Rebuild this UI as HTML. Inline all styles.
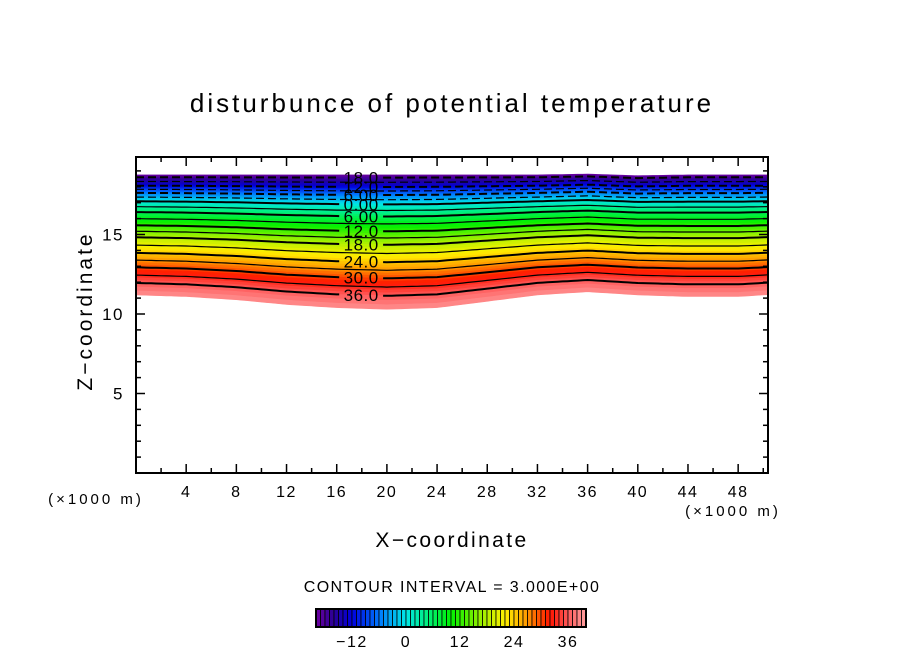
<!DOCTYPE html>
<html><head><meta charset="utf-8"><style>
html,body{margin:0;padding:0;background:#fff;}
svg text{font-family:"Liberation Sans",sans-serif;fill:#000;}
</style></head><body>
<svg id="c" width="904" height="654" viewBox="0 0 904 654" xmlns="http://www.w3.org/2000/svg">
<text x="452" y="112" text-anchor="middle" font-size="26" letter-spacing="3">disturbunce of potential temperature</text>
<g id="field"></g>
<g id="lines"></g>
<g id="labels"></g>
<rect x="136" y="157" width="632" height="316" fill="none" stroke="#000" stroke-width="2"/>
<g id="axes"></g>
<text x="96" y="504" text-anchor="middle" font-size="15" letter-spacing="3">(×1000 m)</text>
<text x="733" y="516" text-anchor="middle" font-size="15" letter-spacing="3">(×1000 m)</text>
<text x="452" y="547" text-anchor="middle" font-size="21" letter-spacing="2.4">X−coordinate</text>
<text transform="translate(92,311) rotate(-90)" text-anchor="middle" font-size="21" letter-spacing="3">Z−coordinate</text>
<text x="452" y="592" text-anchor="middle" font-size="16" letter-spacing="1.4">CONTOUR INTERVAL = 3.000E+00</text>
<g id="cbar"></g>
</svg>
<script>
// data
const xSamples=[0,4,8,12,16,20,24,28,32,36,40,44,48,50];
const zBottom=[11.2,11.1,10.9,10.6,10.4,10.3,10.4,10.8,11.2,11.4,11.2,11.1,11.1,11.2];
const zTop=[18.75,18.75,18.75,18.75,18.75,18.75,18.75,18.75,18.75,18.8,18.7,18.75,18.75,18.75];
const sProfile=[0,0.1,0.23,0.35,0.48,0.58,0.69,0.78,0.85,0.91,0.98,1];
const thetaProfile=[39,36,30,24,18,12,6,0,-6,-12,-18,-20];
const xTicks=[4,8,12,16,20,24,28,32,36,40,44,48];
const yTicks=[5,10,15];
const cbarTicks=[-12,0,12,24,36];
const lineLevels=[-18,-15,-12,-9,-6,-3,0,3,6,9,12,15,18,21,24,27,30,33,36];
const labelLevels=[-18,-12,-6,0,6,12,18,24,30,36];

const NS="http://www.w3.org/2000/svg";
const X=x=>136+x*12.545, Y=z=>473-z*15.9;
function interp(xs,ys,x){for(let i=0;i<xs.length-1;i++){if(x<=xs[i+1]||i==xs.length-2){const t=(x-xs[i])/(xs[i+1]-xs[i]);return ys[i]+t*(ys[i+1]-ys[i]);}}}
function sOf(v){
 for(let i=0;i<thetaProfile.length-1;i++){const a=thetaProfile[i],b=thetaProfile[i+1];
  if((v<=a&&v>=b)){return sProfile[i]+(a-v)/(a-b)*(sProfile[i+1]-sProfile[i]);}}
 return v>thetaProfile[0]?0:1;}
function zOf(v,x){const b=interp(xSamples,zBottom,x),t=interp(xSamples,zTop,x);return b+sOf(v)*(t-b);}
const stops=[[-20,[110,0,160]],[-16,[40,0,150]],[-12,[0,0,220]],[-6,[0,120,255]],[0,[0,230,230]],[5,[0,240,120]],[10,[0,240,0]],[17,[160,240,0]],[22,[255,240,0]],[27,[255,150,0]],[32,[255,20,0]],[36,[255,90,90]],[40,[255,160,160]]];
function col(v){for(let i=0;i<stops.length-1;i++){const[a,ca]=stops[i],[b,cb]=stops[i+1];if(v<=b||i==stops.length-2){const t=Math.max(0,Math.min(1,(v-a)/(b-a)));return`rgb(${ca.map((c,k)=>Math.round(c+t*(cb[k]-c))).join(',')})`;}}}
const xs=[];for(let x=0;x<=50.4;x+=0.4)xs.push(x);
const field=document.getElementById('field');
for(let v=-20;v<39;v++){
 const lo=xs.map(x=>X(x).toFixed(1)+','+Y(zOf(v+1,x)).toFixed(1));
 const hi=xs.slice().reverse().map(x=>X(x).toFixed(1)+','+Y(zOf(v,x)).toFixed(1));
 const p=document.createElementNS(NS,'polygon');
 p.setAttribute('points',lo.concat(hi).join(' '));
 p.setAttribute('fill',col(v+0.5));p.setAttribute('stroke',col(v+0.5));p.setAttribute('stroke-width','0.6');
 
 
 field.appendChild(p);}
const lines=document.getElementById('lines');
lineLevels.forEach(v=>{
 const segs=labelLevels.includes(v)?[[0,16.2],[19.7,50.4]]:[[0,50.4]];
 segs.forEach(([a,b])=>{
  const pts=xs.filter(x=>x>=a&&x<=b).map(x=>X(x).toFixed(1)+','+Y(zOf(v,x)).toFixed(1));
  pts.unshift(X(a).toFixed(1)+','+Y(zOf(v,a)).toFixed(1));pts.push(X(b).toFixed(1)+','+Y(zOf(v,b)).toFixed(1));
  const pl=document.createElementNS(NS,'polyline');
  pl.setAttribute('points',pts.join(' '));pl.setAttribute('fill','none');pl.setAttribute('stroke','#000');
  pl.setAttribute('stroke-width',v%6==0?'2':'1.2');
  if(v<0)pl.setAttribute('stroke-dasharray','8 4');
  
  
  lines.appendChild(pl);});});
const labels=document.getElementById('labels');
labelLevels.forEach(v=>{const t=document.createElementNS(NS,'text');
 t.setAttribute('x',X(17.95));t.setAttribute('y',Y(zOf(v,17.95))+6);t.setAttribute('text-anchor','middle');t.setAttribute('font-size','17');t.setAttribute('letter-spacing','0.5');
 t.textContent=Math.abs(v)<10?Math.abs(v).toFixed(2):Math.abs(v).toFixed(1);
 
 
 labels.appendChild(t);});
const axes=document.getElementById('axes');
function ln(x1,y1,x2,y2,w){const l=document.createElementNS(NS,'line');l.setAttribute('x1',x1);l.setAttribute('y1',y1);l.setAttribute('x2',x2);l.setAttribute('y2',y2);l.setAttribute('stroke','#000');l.setAttribute('stroke-width',w);
 
 
 axes.appendChild(l);}
for(let x=2;x<=50;x+=2){const big=x%4==0,L=big?9:5;ln(X(x),473,X(x),473-L,1.5);ln(X(x),157,X(x),157+L,1.5);}
for(let z=1;z<=19;z++){const big=z%5==0,L=big?9:5;ln(136,Y(z),136+L,Y(z),1.5);ln(768,Y(z),768-L,Y(z),1.5);}
xTicks.forEach(x=>{const t=document.createElementNS(NS,'text');t.setAttribute('x',X(x));t.setAttribute('y',497);t.setAttribute('text-anchor','middle');t.setAttribute('font-size','16');t.setAttribute('letter-spacing','1.5');t.textContent=x;
 
 
 axes.appendChild(t);});
yTicks.forEach(z=>{const t=document.createElementNS(NS,'text');t.setAttribute('x',124);t.setAttribute('y',Y(z)+6);t.setAttribute('text-anchor','end');t.setAttribute('font-size','17');t.setAttribute('letter-spacing','1.5');t.textContent=z;
 
 
 axes.appendChild(t);});
const cb=document.getElementById('cbar');const C=v=>316+(v+20)*4.5;
for(let v=-20;v<40;v++){const r=document.createElementNS(NS,'rect');r.setAttribute('x',C(v));r.setAttribute('y',609);r.setAttribute('width',4.5);r.setAttribute('height',18);r.setAttribute('fill',col(v+0.5));r.setAttribute('stroke','#000');r.setAttribute('stroke-width','0.8');
 
 
 cb.appendChild(r);}
const fr=document.createElementNS(NS,'rect');fr.setAttribute('x',316);fr.setAttribute('y',609);fr.setAttribute('width',270);fr.setAttribute('height',18);fr.setAttribute('fill','none');fr.setAttribute('stroke','#000');fr.setAttribute('stroke-width','2');


cb.appendChild(fr);
cbarTicks.forEach(v=>{const t=document.createElementNS(NS,'text');t.setAttribute('x',C(v));t.setAttribute('y',647);t.setAttribute('text-anchor','middle');t.setAttribute('font-size','16');t.setAttribute('letter-spacing','1.5');t.textContent=v<0?'−'+(-v):v;
 
 
 cb.appendChild(t);});
</script>
</body></html>
